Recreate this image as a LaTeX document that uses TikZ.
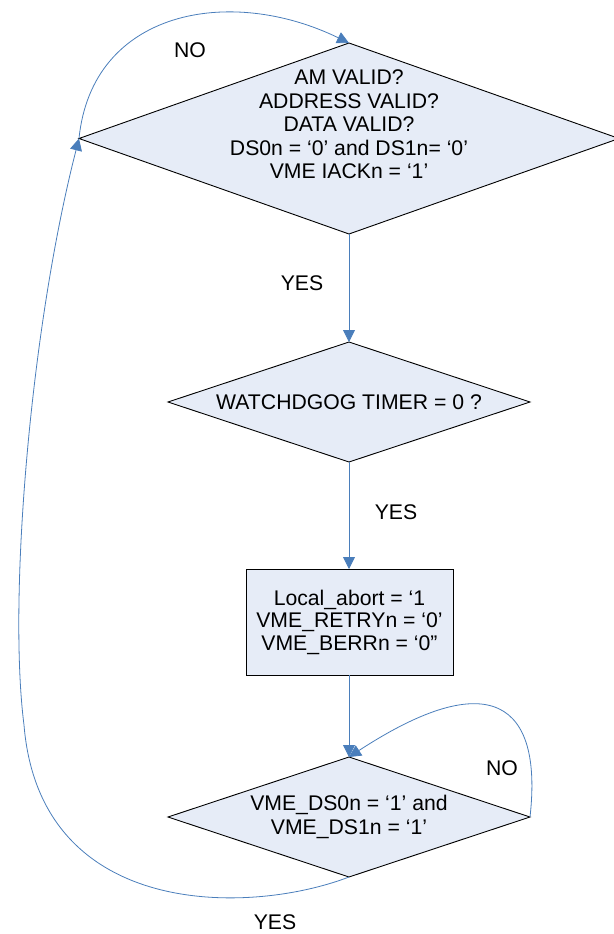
\documentclass[tikz,border=0pt]{standalone}
\usepackage{fontspec}
\setmainfont{Liberation Sans}
\usetikzlibrary{shapes.geometric,arrows.meta}
\definecolor{shapefill}{RGB}{230,236,247}
\definecolor{linkblue}{RGB}{74,126,187}
\begin{document}
\begin{tikzpicture}[x=1pt,y=-1pt,
  decision/.style={shape=diamond, draw=black, line width=0.9pt, fill=shapefill,
    inner sep=0pt, outer sep=0pt},
  action/.style={rectangle, draw=black, line width=0.9pt, fill=shapefill,
    inner sep=0pt, outer sep=0pt, minimum width=207pt, minimum height=106pt,
    align=center, font=\fontsize{21.2}{22.5}\selectfont},
  txt/.style={align=center, inner sep=0pt, font=\fontsize{21.2}{23.5}\selectfont},
  lbl/.style={inner sep=0pt, font=\fontsize{21.2}{24}\selectfont},
  link/.style={draw=linkblue, line width=0.8pt, -{Triangle[length=12pt,width=12pt]}}
]
\useasboundingbox (0,0) rectangle (613,934);

% decisions and action
\node[decision, minimum width=540pt, minimum height=191pt] (q1) at (349,138.5) {};
\node[txt] (q1t) at (349,124.5) {AM VALID?\\ADDRESS VALID?\\DATA VALID?\\DS0n = ‘0’ and DS1n= ‘0’\\VME IACKn = ‘1’};

\node[decision, minimum width=362pt, minimum height=120pt] (q2) at (349,402) {};
\node[txt] (q2t) at (349,402) {WATCHDGOG TIMER = 0 ?};

\node[action] (act) at (349.5,622) {Local\_abort = ‘1\\VME\_RETRYn = ‘0’\\VME\_BERRn = ‘0”};

\node[decision, minimum width=362pt, minimum height=120pt] (q3) at (349,817) {};
\node[txt] (q3t) at (349,817) {VME\_DS0n = ‘1’ and\\VME\_DS1n = ‘1’};

% straight flow
\draw[link] (q1.south) -- (q2.north);
\draw[link] (q2.south) -- (act.north -| q2.south);
\draw[link] (act.south -| q3.north) -- (q3.north);

% loops
\draw[link] (q1.west) .. controls (92,10) and (230,-15) .. (q1.north);
\draw[link] (q3.east) .. controls (543,702) and (490,665) .. (q3.north);
\draw[link] (q3.south) .. controls (250,915) and (40,920) .. (24,725)
  .. controls (8,600) and (30,330) .. (q1.west);

% branch labels
\node[lbl] (no1) at (190,50) {NO};
\node[lbl] (yes1) at (302,283) {YES};
\node[lbl] (yes2) at (396,512) {YES};
\node[lbl] (no2) at (502,768) {NO};
\node[lbl] (yes3) at (275,922) {YES};
\end{tikzpicture}
\end{document}
